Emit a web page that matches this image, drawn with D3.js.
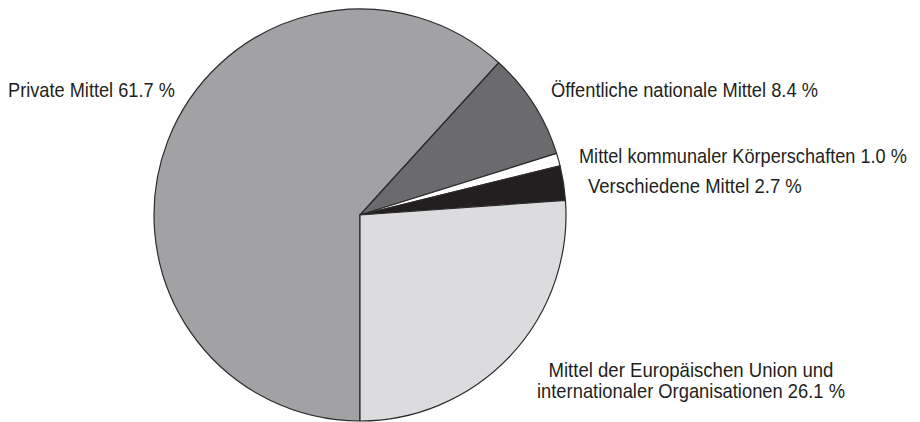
<!DOCTYPE html>
<html>
<head>
<meta charset="utf-8">
<script src="https://cdn.jsdelivr.net/npm/d3@7"></script>
<style>
  body { margin: 0; background: #fff; }
  text { font-family: "Liberation Sans", Arial, sans-serif; font-size: 20px; fill: #231f20; }
</style>
</head>
<body>
<script>
// shares of funding, clockwise from 6 o'clock
var categories = ["Private Mittel", "Öffentliche nationale Mittel", "Mittel kommunaler Körperschaften", "Verschiedene Mittel", "Mittel der Europäischen Union und internationaler Organisationen"];
var values = [61.7, 8.4, 1.0, 2.7, 26.1];
var labels = [
  ["Private Mittel 61.7 %"],
  ["Öffentliche nationale Mittel 8.4 %"],
  ["Mittel kommunaler Körperschaften 1.0 %"],
  ["Verschiedene Mittel 2.7 %"],
  ["Mittel der Europäischen Union und", "internationaler Organisationen 26.1 %"]
];
var colors = ["#a2a2a5", "#6b6b6e", "#ffffff", "#231f20", "#dcdcde"];

// label placement (layout only); widths squeeze the text like a condensed face
var labelPos = [
  {x: 8, y: 97, w: [167]},
  {x: 551, y: 97, w: [267]},
  {x: 579, y: 163, w: [328]},
  {x: 588, y: 193, w: [214]},
  {x: 691, y: 377, w: [285, 308], mid: true}
];

var width = 920, height = 422;
var cx = 360, cy = 215, r = 206;

var svg = d3.select("body").append("svg")
    .attr("width", width)
    .attr("height", height);

var pie = d3.pie()
    .sort(null)
    .value(function(d) { return d; })
    .startAngle(Math.PI)
    .endAngle(Math.PI * 3);

var arc = d3.arc().innerRadius(0).outerRadius(r);

var g = svg.append("g").attr("transform", "translate(" + cx + "," + cy + ")");

g.selectAll("path")
    .data(pie(values))
    .enter()
    .append("path")
    .attr("d", arc)
    .attr("fill", function(d, i) { return colors[i]; })
    .attr("stroke", "#2b2b2d")
    .attr("stroke-width", 1.2)
    .attr("stroke-linejoin", "round");

svg.selectAll("g.lbl")
    .data(labels)
    .enter()
    .append("g")
    .attr("class", "lbl")
    .each(function(lines, i) {
        var p = labelPos[i];
        lines.forEach(function(line, j) {
            var w = p.w[j];
            var t = d3.select(this).append("text").text(line);
            var nat = t.node().getComputedTextLength();
            var x0 = p.mid ? p.x - w / 2 : p.x;
            t.attr("transform", "translate(" + x0 + "," + (p.y + j * 21) + ") scale(" + (w / nat) + ",1)");
        }, this);
    });
</script>
</body>
</html>
